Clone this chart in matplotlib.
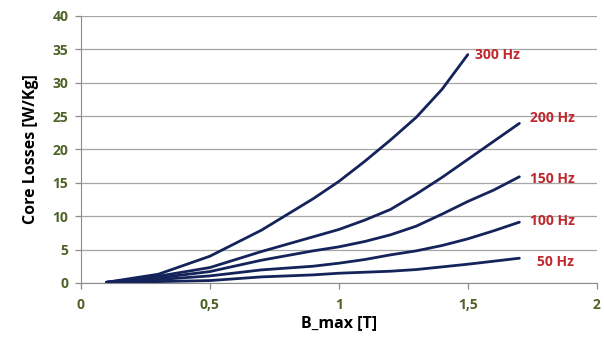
import matplotlib
matplotlib.use("Agg")
import matplotlib.pyplot as plt

b_max = [0.1, 0.3, 0.5, 0.7, 0.9, 1.0, 1.1, 1.2, 1.3, 1.4, 1.5, 1.6, 1.7]
b_max_300 = [0.1, 0.3, 0.5, 0.7, 0.9, 1.0, 1.1, 1.2, 1.3, 1.4, 1.5]
loss_300 = [0.1, 1.3, 4.0, 7.9, 12.6, 15.2, 18.2, 21.4, 24.8, 29.0, 34.2]
loss_200 = [0.1, 1.0, 2.3, 4.7, 6.9, 8.0, 9.4, 11.0, 13.3, 15.8, 18.5, 21.2, 23.9]
loss_150 = [0.1, 0.75, 1.7, 3.4, 4.8, 5.4, 6.2, 7.2, 8.5, 10.3, 12.2, 13.9, 15.9]
loss_100 = [0.1, 0.5, 1.05, 1.95, 2.5, 2.95, 3.5, 4.2, 4.8, 5.6, 6.6, 7.8, 9.1]
loss_50 = [0.05, 0.2, 0.35, 0.9, 1.2, 1.45, 1.6, 1.75, 2.0, 2.4, 2.8, 3.25, 3.7]

series_labels = ["300 Hz", "200 Hz", "150 Hz", "100 Hz", "50 Hz"]
label_pos = [(1.527, 34.2), (1.74, 24.7), (1.74, 15.6), (1.74, 9.3), (1.767, 3.1)]

xticks = [0, 0.5, 1, 1.5, 2]
xtick_labels = ["0", "0,5", "1", "1,5", "2"]
yticks = [0, 5, 10, 15, 20, 25, 30, 35, 40]

plt.rcParams['font.family'] = ['Open Sans', 'DejaVu Sans']

fig = plt.figure(figsize=(6.04, 3.38), dpi=100)
ax = fig.add_axes([0.134, 0.163, 0.854, 0.79])

line_color = "#14235A"
for xs, ys in [(b_max_300, loss_300), (b_max, loss_200), (b_max, loss_150),
               (b_max, loss_100), (b_max, loss_50)]:
    ax.plot(xs, ys, color=line_color, lw=2, solid_capstyle='round',
            solid_joinstyle='round', zorder=3)

for lab, (x, y) in zip(series_labels, label_pos):
    ax.text(x, y, lab, color="#C0282D", fontsize=10, fontweight='bold',
            va='center', ha='left')

ax.set_xlim(0, 2)
ax.set_ylim(0, 40)
ax.set_xticks(xticks)
ax.set_xticklabels(xtick_labels)
ax.set_yticks(yticks)
ax.yaxis.grid(True, color="#A6A6A6", lw=0.9)
ax.set_axisbelow(True)
for s in ['top', 'right']:
    ax.spines[s].set_visible(False)
for s in ['left', 'bottom']:
    ax.spines[s].set_color("#8C8C8C")
ax.tick_params(axis='both', colors="#8C8C8C", length=4, width=0.9,
               labelcolor="#4F6228", labelsize=10)
for t in ax.get_xticklabels() + ax.get_yticklabels():
    t.set_fontweight('bold')
ax.tick_params(axis='x', pad=7)
ax.tick_params(axis='y', pad=5)
ax.set_xlabel("B_max [T]", fontsize=11.5, fontweight='bold', labelpad=2)
ax.set_ylabel("Core Losses [W/Kg]", fontsize=11.5, fontweight='bold', labelpad=10)

fig.savefig("out.png", dpi=100)
